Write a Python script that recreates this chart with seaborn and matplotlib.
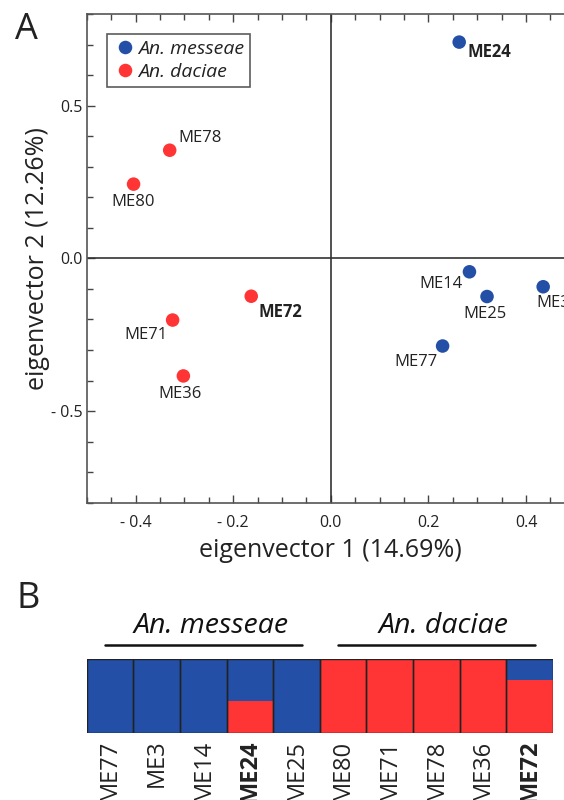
import numpy as np
import pandas as pd
import matplotlib
matplotlib.use("Agg")
import matplotlib.pyplot as plt
import matplotlib.transforms as mtransforms
from matplotlib.ticker import MultipleLocator
import seaborn as sns

# ---------------- data ----------------
sample_ids = ["ME24", "ME14", "ME3", "ME25", "ME77", "ME78", "ME80", "ME72", "ME71", "ME36"]
species = ["An. messeae"] * 5 + ["An. daciae"] * 5
eigvec1 = [0.263, 0.284, 0.435, 0.320, 0.229, -0.330, -0.404, -0.163, -0.324, -0.302]
eigvec2 = [0.708, -0.044, -0.093, -0.125, -0.287, 0.354, 0.243, -0.124, -0.202, -0.385]
bold_ids = ["ME24", "ME72"]

x_ticks = [-0.4, -0.2, 0.0, 0.2, 0.4]
x_ticklabels = ["- 0.4", "- 0.2", "0.0", "0.2", "0.4"]
y_ticks = [-0.5, 0.0, 0.5]
y_ticklabels = ["- 0.5", "0.0", "0.5"]

struct_ids = ["ME77", "ME3", "ME14", "ME24", "ME25", "ME80", "ME71", "ME78", "ME36", "ME72"]
struct_red = [0.0, 0.0, 0.0, 0.43, 0.0, 1.0, 1.0, 1.0, 1.0, 0.72]
struct_total = [1.0] * 10
groups = ["An. messeae", "An. daciae"]
group_members = [["ME77", "ME3", "ME14", "ME24", "ME25"],
                 ["ME80", "ME71", "ME78", "ME36", "ME72"]]

# ---------------- style ----------------
BLUE = "#2350A6"
RED = "#FF3535"
TXT = "#222222"
sns.set_theme(style="white")
plt.rcParams["font.family"] = ["Open Sans", "DejaVu Sans"]

W, H = 564, 800
fig = plt.figure(figsize=(W / 100, H / 100), dpi=100)

def px_rect(left, top, right, bottom):
    return [left / W, 1 - bottom / H, (right - left) / W, (bottom - top) / H]

# ---------------- panel A ----------------
axA = fig.add_axes(px_rect(86.7, 14, 574.9, 502.7))
df = pd.DataFrame({"id": sample_ids, "species": species, "ev1": eigvec1, "ev2": eigvec2})
axA.axvline(0, color="#333333", lw=1.2, zorder=1)
axA.axhline(0, color="#333333", lw=1.2, zorder=1)
sns.scatterplot(data=df, x="ev1", y="ev2", hue="species",
                hue_order=["An. messeae", "An. daciae"],
                palette=[BLUE, RED], s=95, edgecolor="none", ax=axA, zorder=3)

# label offsets (points) and alignment
label_style = {
    "ME24": (6.2, -7.0, "left"),
    "ME14": (-4.6, -9.0, "right"),
    "ME3": (-5.2, -12.0, "left"),
    "ME25": (-1.8, -12.7, "center"),
    "ME77": (-3.9, -11.3, "right"),
    "ME78": (6.0, 9.0, "left"),
    "ME80": (0.0, -12.7, "center"),
    "ME72": (5.4, -11.0, "left"),
    "ME71": (-3.9, -10.8, "right"),
    "ME36": (-2.1, -13.0, "center"),
}
for sid, x, y in zip(sample_ids, eigvec1, eigvec2):
    dx, dy, ha = label_style[sid]
    axA.annotate(sid, (x, y), xytext=(dx, dy), textcoords="offset points",
                 ha=ha, va="center", fontsize=12, color=TXT,
                 fontweight="bold" if sid in bold_ids else "normal", zorder=4)

axA.set_xlim(-0.5, 0.5)
axA.set_ylim(-0.8, 0.8)
axA.set_xticks(x_ticks)
axA.set_xticklabels(x_ticklabels)
axA.set_yticks(y_ticks)
axA.set_yticklabels(y_ticklabels)
axA.xaxis.set_minor_locator(MultipleLocator(0.05))
axA.yaxis.set_minor_locator(MultipleLocator(0.1))
axA.tick_params(which="both", direction="in", top=True, bottom=True, left=True, right=True,
                colors="#444444", labelcolor=TXT, labelsize=11.5)
axA.tick_params(which="major", length=6, width=1)
axA.tick_params(which="minor", length=4, width=1)
axA.tick_params(axis="x", which="major", pad=9)
axA.tick_params(axis="y", which="major", pad=3)
for sp in axA.spines.values():
    sp.set_color("#555555")
    sp.set_linewidth(1.2)
axA.set_xlabel("eigenvector 1 (14.69%)", fontsize=18, color=TXT, labelpad=5)
axA.set_ylabel("eigenvector 2 (12.26%)", fontsize=18, color=TXT, labelpad=1)

leg = axA.legend(loc="upper left", bbox_to_anchor=((107.2 - 86.7) / 488.2, (502.7 - 34) / 488.7),
                 borderaxespad=0, frameon=True, fancybox=False, fontsize=14,
                 handletextpad=0.1, borderpad=0.3, labelspacing=0.25, handlelength=1.2,
                 markerscale=1.0)
leg.get_frame().set_edgecolor("#333333")
leg.get_frame().set_linewidth(1.2)
for t in leg.get_texts():
    t.set_fontstyle("italic")
    t.set_color(TXT)

fig.text(15 / W, 1 - 39 / H, "A", fontsize=26, color=TXT, ha="left", va="baseline")

# ---------------- panel B ----------------
axB = fig.add_axes(px_rect(86.7, 659.3, 552.9, 732.7))
sdf = pd.DataFrame({"id": struct_ids, "red": struct_red, "total": struct_total})
sns.barplot(data=sdf, x="id", y="total", color=BLUE, width=1.0, saturation=1,
            linewidth=0, ax=axB)
sns.barplot(data=sdf, x="id", y="red", color=RED, width=1.0, saturation=1,
            linewidth=0, ax=axB)
sns.barplot(data=sdf, x="id", y="total", color="#222222", width=1.0, fill=False,
            linewidth=1.0, ax=axB)
axB.set_xlim(-0.5, len(struct_ids) - 0.5)
axB.set_ylim(0, 1)
axB.set_yticks([])
axB.set_xlabel("")
axB.set_ylabel("")
for sp in axB.spines.values():
    sp.set_visible(False)
axB.tick_params(axis="x", length=0, pad=5, labelsize=17, labelcolor=TXT)
axB.set_xticks(range(len(struct_ids)))
axB.set_xticklabels(struct_ids, rotation=90, va="top")
for lab in axB.get_xticklabels():
    if lab.get_text() in bold_ids:
        lab.set_fontweight("bold")

trans = mtransforms.blended_transform_factory(axB.transData, axB.transAxes)
for g, members in zip(groups, group_members):
    idx = [struct_ids.index(m) for m in members]
    lo, hi = min(idx) - 0.1, max(idx) + 0.12
    axB.plot([lo, hi], [1.2, 1.2], color="#111111", lw=1.8, transform=trans, clip_on=False)
    axB.text((lo + hi) / 2 + 0.15, 1.36, g, transform=trans, ha="center", va="baseline",
             fontsize=20.5, fontstyle="italic", color="#111111")

fig.text(16 / W, 1 - 608 / H, "B", fontsize=26, color=TXT, ha="left", va="baseline")

fig.savefig("out.png", dpi=100)
